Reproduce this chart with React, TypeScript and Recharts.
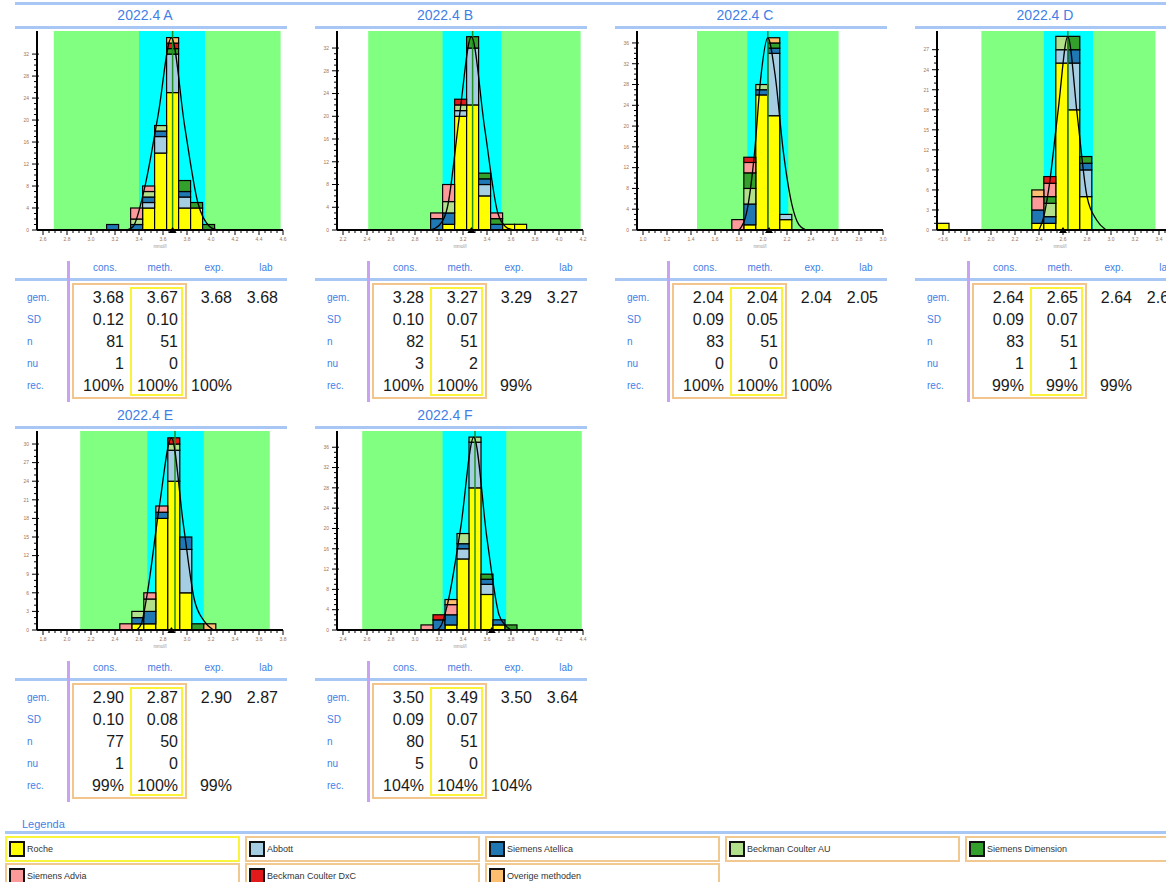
import React from "react";
import {
  ComposedChart,
  Bar,
  Line,
  XAxis,
  YAxis,
  ReferenceArea,
  ReferenceLine,
  ReferenceDot,
} from "recharts";

// ---------------------------------------------------------------------------
// Methods (stack order bottom -> top) and legend colours
// ---------------------------------------------------------------------------

const methods = [
  "Roche",
  "Abbott",
  "Siemens Atellica",
  "Beckman Coulter AU",
  "Siemens Dimension",
  "Siemens Advia",
  "Beckman Coulter DxC",
  "Overige methoden",
];
const methodColors = [
  "#ffff00",
  "#a6cee3",
  "#1f78b4",
  "#b2df8a",
  "#33a02c",
  "#fb9a99",
  "#e31a1c",
  "#fdbf6f",
];

// ---------------------------------------------------------------------------
// 2022.4 A
// ---------------------------------------------------------------------------

const binsA = [3.18, 3.38, 3.48, 3.58, 3.68, 3.78, 3.88, 3.98];
const countsA = [
  [0, 0, 4, 14, 25, 4, 4, 0],
  [0, 0, 1, 3, 7, 2, 0, 0],
  [1, 1, 1, 1, 0, 1, 0, 0],
  [0, 1, 1, 1, 0, 0, 0, 0],
  [0, 0, 0, 0, 1, 2, 1, 1],
  [0, 2, 1, 0, 0, 0, 0, 0],
  [0, 0, 0, 0, 1, 0, 0, 0],
  [0, 0, 0, 0, 1, 0, 0, 0],
];
const curveA = [
  [3.3, 0], [3.35, 0.6], [3.45, 8], [3.56, 21], [3.67, 35],
  [3.78, 19], [3.89, 5], [3.99, 0.6], [4.05, 0],
];
const greenA = [2.69, 4.58];
const cyanA = [3.4, 3.95];
const xTicksA = [2.6, 2.8, 3.0, 3.2, 3.4, 3.6, 3.8, 4.0, 4.2, 4.4, 4.6];
const yTicksA = [0, 4, 8, 12, 16, 20, 24, 28, 32];
const tableA = [
  ["3.68", "3.67", "3.68", "3.68"],
  ["0.12", "0.10"],
  ["81", "51"],
  ["1", "0"],
  ["100%", "100%", "100%"],
];

// ---------------------------------------------------------------------------
// 2022.4 B
// ---------------------------------------------------------------------------

const binsB = [2.98, 3.08, 3.18, 3.28, 3.38, 3.48, 3.58, 3.68];
const countsB = [
  [0, 1, 20, 22, 6, 0, 1, 1],
  [0, 0, 1, 10, 2, 0, 0, 0],
  [2, 2, 0, 0, 1, 1, 0, 0],
  [0, 2, 1, 0, 0, 0, 0, 0],
  [0, 0, 0, 2, 1, 1, 0, 0],
  [1, 3, 0, 0, 0, 1, 0, 0],
  [0, 0, 1, 0, 0, 0, 0, 0],
  [0, 0, 0, 0, 0, 0, 0, 0],
];
const curveB = [
  [2.93, 0], [3.0, 0.8], [3.07, 4], [3.17, 20], [3.27, 34],
  [3.38, 18], [3.49, 3], [3.56, 0.5], [3.62, 0],
];
const greenB = [2.41, 4.18];
const cyanB = [3.03, 3.52];
const xTicksB = [2.2, 2.4, 2.6, 2.8, 3.0, 3.2, 3.4, 3.6, 3.8, 4.0, 4.2];
const yTicksB = [0, 4, 8, 12, 16, 20, 24, 28, 32];
const tableB = [
  ["3.28", "3.27", "3.29", "3.27"],
  ["0.10", "0.07"],
  ["82", "51"],
  ["3", "2"],
  ["100%", "100%", "99%"],
];

// ---------------------------------------------------------------------------
// 2022.4 C
// ---------------------------------------------------------------------------

const binsC = [1.79, 1.89, 1.99, 2.09, 2.19];
const countsC = [
  [0, 1, 26, 22, 2],
  [0, 0, 0, 12, 1],
  [0, 4, 1, 1, 0],
  [0, 3, 1, 0, 0],
  [0, 3, 0, 1, 0],
  [2, 2, 0, 0, 0],
  [0, 1, 0, 0, 0],
  [0, 0, 0, 1, 0],
];
const curveC = [
  [1.8, 0], [1.86, 3], [1.93, 15], [1.98, 29], [2.04, 37],
  [2.1, 30], [2.17, 15], [2.24, 5], [2.3, 1], [2.36, 0],
];
const greenC = [1.45, 2.63];
const cyanC = [1.87, 2.21];
const xTicksC = [1.0, 1.2, 1.4, 1.6, 1.8, 2.0, 2.2, 2.4, 2.6, 2.8, 3.0];
const yTicksC = [0, 4, 8, 12, 16, 20, 24, 28, 32, 36];
const tableC = [
  ["2.04", "2.04", "2.04", "2.05"],
  ["0.09", "0.05"],
  ["83", "51"],
  ["0", "0"],
  ["100%", "100%", "100%"],
];

// ---------------------------------------------------------------------------
// 2022.4 D
// ---------------------------------------------------------------------------

const binsD = [1.6, 2.39, 2.49, 2.59, 2.69, 2.79];
const countsD = [
  [1, 1, 1, 25, 18, 5],
  [0, 0, 0, 2, 7, 4],
  [0, 2, 1, 0, 2, 1],
  [0, 0, 2, 2, 0, 0],
  [0, 0, 1, 0, 2, 1],
  [0, 2, 2, 0, 0, 0],
  [0, 0, 1, 0, 0, 0],
  [0, 1, 0, 0, 0, 0],
];
const curveD = [
  [2.4, 0], [2.44, 2], [2.48, 6], [2.56, 18], [2.64, 29],
  [2.72, 17], [2.8, 5], [2.88, 1.5], [2.96, 0],
];
const greenD = [1.92, 3.37];
const cyanD = [2.44, 2.85];
const xTicksD = [1.6, 1.8, 2.0, 2.2, 2.4, 2.6, 2.8, 3.0, 3.2, 3.4, 3.6];
const yTicksD = [0, 3, 6, 9, 12, 15, 18, 21, 24, 27];
const tableD = [
  ["2.64", "2.65", "2.64", "2.60"],
  ["0.09", "0.07"],
  ["83", "51"],
  ["1", "1"],
  ["99%", "99%", "99%"],
];

// ---------------------------------------------------------------------------
// 2022.4 E
// ---------------------------------------------------------------------------

const binsE = [2.49, 2.59, 2.69, 2.79, 2.89, 2.99, 3.09, 3.19];
const countsE = [
  [0, 1, 1, 18, 24, 6, 0, 0],
  [0, 0, 0, 0, 5, 7, 0, 0],
  [0, 1, 2, 1, 0, 2, 0, 0],
  [0, 1, 2, 0, 1, 0, 0, 0],
  [0, 0, 0, 0, 0, 0, 1, 0],
  [1, 0, 1, 1, 0, 0, 0, 0],
  [0, 0, 0, 0, 1, 0, 0, 0],
  [0, 0, 0, 0, 0, 0, 0, 1],
];
const curveE = [
  [2.58, 0], [2.62, 1], [2.67, 6], [2.77, 20], [2.87, 31],
  [2.97, 17], [3.06, 5], [3.14, 1.5], [3.22, 0],
];
const greenE = [2.11, 3.69];
const cyanE = [2.67, 3.14];
const xTicksE = [1.8, 2.0, 2.2, 2.4, 2.6, 2.8, 3.0, 3.2, 3.4, 3.6, 3.8];
const yTicksE = [0, 3, 6, 9, 12, 15, 18, 21, 24, 27, 30];
const tableE = [
  ["2.90", "2.87", "2.90", "2.87"],
  ["0.10", "0.08"],
  ["77", "50"],
  ["1", "0"],
  ["99%", "100%", "99%"],
];

// ---------------------------------------------------------------------------
// 2022.4 F
// ---------------------------------------------------------------------------

const binsF = [3.1, 3.2, 3.3, 3.4, 3.5, 3.6, 3.7, 3.8];
const countsF = [
  [0, 0, 1, 14, 28, 7, 1, 0],
  [0, 0, 0, 2, 9, 2, 0, 0],
  [0, 2, 2, 1, 0, 1, 1, 0],
  [0, 0, 0, 2, 1, 0, 0, 0],
  [0, 0, 0, 0, 0, 1, 0, 1],
  [1, 0, 2, 0, 0, 0, 0, 0],
  [0, 1, 0, 0, 0, 0, 0, 0],
  [0, 0, 1, 0, 0, 0, 0, 0],
];
const curveF = [
  [3.18, 0], [3.22, 1], [3.27, 5], [3.38, 20], [3.49, 38],
  [3.6, 18], [3.7, 3], [3.75, 1], [3.8, 0],
];
const greenF = [2.56, 4.39];
const cyanF = [3.23, 3.76];
const xTicksF = [2.4, 2.6, 2.8, 3.0, 3.2, 3.4, 3.6, 3.8, 4.0, 4.2, 4.4];
const yTicksF = [0, 4, 8, 12, 16, 20, 24, 28, 32, 36];
const tableF = [
  ["3.50", "3.49", "3.50", "3.64"],
  ["0.09", "0.07"],
  ["80", "51"],
  ["5", "0"],
  ["104%", "104%", "104%"],
];

const rowLabels = ["gem.", "SD", "n", "nu", "rec."];
const colLabels = ["cons.", "meth.", "exp.", "lab"];

// ---------------------------------------------------------------------------
// Styling
// ---------------------------------------------------------------------------

const FONT = '"Liberation Sans", Arial, sans-serif';
const TITLE_BLUE = "#3f7fe6";
const RULE_BLUE = "#a9c7f5";
const TICK_COLOR = "#a07458";
const BIN_WIDTH = 0.1;
const PX_PER_UNIT = 120;

const panels = [
  { title: "2022.4 A", bins: binsA, counts: countsA, curve: curveA, green: greenA, cyan: cyanA, xTicks: xTicksA, yTicks: yTicksA, yMax: 36.2, table: tableA, left: 0, top: 0 },
  { title: "2022.4 B", bins: binsB, counts: countsB, curve: curveB, green: greenB, cyan: cyanB, xTicks: xTicksB, yTicks: yTicksB, yMax: 35, table: tableB, left: 300, top: 0 },
  { title: "2022.4 C", bins: binsC, counts: countsC, curve: curveC, green: greenC, cyan: cyanC, xTicks: xTicksC, yTicks: yTicksC, yMax: 38.3, table: tableC, left: 600, top: 0 },
  { title: "2022.4 D", bins: binsD, counts: countsD, curve: curveD, green: greenD, cyan: cyanD, xTicks: xTicksD, yTicks: yTicksD, yMax: 29.8, table: tableD, left: 900, top: 0, firstLabel: "<1.6" },
  { title: "2022.4 E", bins: binsE, counts: countsE, curve: curveE, green: greenE, cyan: cyanE, xTicks: xTicksE, yTicks: yTicksE, yMax: 32.1, table: tableE, left: 0, top: 400 },
  { title: "2022.4 F", bins: binsF, counts: countsF, curve: curveF, green: greenF, cyan: cyanF, xTicks: xTicksF, yTicks: yTicksF, yMax: 39.2, table: tableF, left: 300, top: 400 },
];

// minor ticks: quarters between the labelled x ticks, units on y
function withMinorX(majors: number[]) {
  const out: number[] = [];
  majors.forEach((m, i) => {
    out.push(m);
    if (i < majors.length - 1) for (let k = 1; k < 4; k++) out.push(+(m + k * 0.05).toFixed(3));
  });
  return out;
}
function withMinorY(majors: number[]) {
  const out: number[] = [];
  const last = majors[majors.length - 1];
  for (let v = 0; v <= last; v++) out.push(v);
  return out;
}

function XTick(props: any) {
  const { x, y, payload, majors, firstLabel } = props;
  const idx = majors.findIndex((m: number) => Math.abs(m - payload.value) < 1e-6);
  const major = idx >= 0;
  const label = idx === 0 && firstLabel ? firstLabel : major ? majors[idx].toFixed(1) : "";
  return (
    <g>
      <line x1={x} y1={y} x2={x} y2={y + (major ? 5 : 3)} stroke="#000" strokeWidth={1} />
      {major && (
        <text x={x} y={y + 11} textAnchor="middle" fontSize={5} fill={TICK_COLOR} fontFamily={FONT}>
          {label}
        </text>
      )}
    </g>
  );
}

function YTick(props: any) {
  const { x, y, payload, majors } = props;
  const major = majors.includes(payload.value);
  return (
    <g>
      <line x1={x - (major ? 5 : 3)} y1={y} x2={x + (major ? 2 : 0)} y2={y} stroke="#000" strokeWidth={1} />
      {major && (
        <text x={x - 8} y={y + 1.8} textAnchor="end" fontSize={5} fill={TICK_COLOR} fontFamily={FONT}>
          {payload.value}
        </text>
      )}
    </g>
  );
}

// every stacked segment is one bin wide, centred on the bin value
function BinSegment(s: any) {
  if (!s.height || s.height <= 0) return null;
  const w = BIN_WIDTH * PX_PER_UNIT;
  const cx = s.x + s.width / 2;
  return (
    <rect x={cx - w / 2} y={s.y} width={w} height={s.height} fill={s.fill} stroke="#000" strokeWidth={1.2} />
  );
}

function Histogram({ p }: { p: (typeof panels)[number] }) {
  const data = p.bins.map((b, i) => {
    const row: Record<string, number> = { x: b };
    methods.forEach((m, j) => (row[m] = p.counts[j][i]));
    return row;
  });
  const curve = p.curve.map(([x, y]) => ({ x, y }));
  const xMin = p.xTicks[0] - 0.05;
  const xMax = p.xTicks[p.xTicks.length - 1];
  const mean = parseFloat(p.table[0][0]);
  const lab = parseFloat(p.table[0][3]);

  return (
    <ComposedChart
      width={290}
      height={252}
      data={data}
      margin={{ top: 31, right: 7, bottom: 2, left: 17 }}
    >
      <XAxis
        dataKey="x"
        type="number"
        domain={[xMin, xMax]}
        allowDataOverflow
        ticks={withMinorX(p.xTicks)}
        interval={0}
        height={20}
        tickSize={0}
        tickMargin={0}
        tickLine={false}
        axisLine={{ stroke: "#000", strokeWidth: 2 }}
        tick={(t: any) => <XTick {...t} majors={p.xTicks} firstLabel={(p as any).firstLabel} />}
        label={{ value: "mmol/l", position: "insideBottom", offset: 2, style: { fontSize: 4.5, fill: "#999", fontFamily: FONT } }}
      />
      <YAxis
        type="number"
        domain={[0, p.yMax]}
        allowDataOverflow
        ticks={withMinorY(p.yTicks)}
        interval={0}
        width={20}
        tickSize={0}
        tickMargin={0}
        tickLine={false}
        axisLine={{ stroke: "#000", strokeWidth: 2 }}
        tick={(t: any) => <YTick {...t} majors={p.yTicks} />}
      />
      <ReferenceArea x1={p.green[0]} x2={p.green[1]} y1={0} y2={p.yMax} fill="#80ff80" fillOpacity={1} stroke="none" ifOverflow="hidden" />
      <ReferenceArea x1={p.cyan[0]} x2={p.cyan[1]} y1={0} y2={p.yMax} fill="#00ffff" fillOpacity={1} stroke="none" ifOverflow="hidden" />
      {methods.map((m, j) => (
        <Bar
          key={m}
          dataKey={m}
          stackId="all"
          fill={methodColors[j]}
          shape={BinSegment}
          isAnimationActive={false}
        />
      ))}
      <ReferenceLine x={mean} stroke="#1f8f1f" strokeWidth={1.5} ifOverflow="hidden" />
      <Line
        data={curve}
        dataKey="y"
        type="monotone"
        stroke="#000"
        strokeWidth={1.3}
        dot={false}
        activeDot={false}
        isAnimationActive={false}
      />
      <ReferenceDot
        x={lab}
        y={0}
        r={4}
        ifOverflow="visible"
        shape={(s: any) => (
          <polygon
            points={`${s.cx - 4},${s.cy + 3} ${s.cx + 4},${s.cy + 3} ${s.cx},${s.cy - 3}`}
            fill="#000"
          />
        )}
      />
    </ComposedChart>
  );
}

function StatsTable({ rows }: { rows: string[][] }) {
  const colRight = [124, 178, 232, 278];
  const colCenter = [105, 160, 214, 266];
  const rowY = [298, 320, 342, 364, 386];
  return (
    <>
      {colLabels.map((c, i) => (
        <div
          key={c}
          style={{ position: "absolute", left: colCenter[i] - 30, width: 60, top: 262, textAlign: "center", fontSize: 10, color: TITLE_BLUE, lineHeight: "12px" }}
        >
          {c}
        </div>
      ))}
      <div style={{ position: "absolute", left: 15, top: 278, width: 272, height: 3, background: RULE_BLUE }} />
      <div style={{ position: "absolute", left: 67, top: 261, width: 3, height: 141, background: "#c9a3f2" }} />
      <div style={{ position: "absolute", left: 72, top: 283, width: 115, height: 116, border: "2px solid #f1c58b", boxSizing: "border-box" }} />
      <div style={{ position: "absolute", left: 130, top: 287, width: 53, height: 109, border: "2px solid #fbf23a", boxSizing: "border-box" }} />
      {rowLabels.map((r, i) => (
        <div key={r} style={{ position: "absolute", left: 27, top: rowY[i] - 6, fontSize: 10, color: TITLE_BLUE, lineHeight: "12px" }}>
          {r}
        </div>
      ))}
      {rows.map((vals, i) =>
        vals.map((v, j) => (
          <div
            key={`${i}-${j}`}
            style={{ position: "absolute", left: colRight[j] - 60, width: 60, top: rowY[i] - 9, textAlign: "right", fontSize: 16, color: "#1a1a1a", lineHeight: "18px" }}
          >
            {v}
          </div>
        )),
      )}
    </>
  );
}

function Panel({ p }: { p: (typeof panels)[number] }) {
  return (
    <div style={{ position: "absolute", left: p.left, top: p.top, width: 300, height: 402 }}>
      <div style={{ position: "absolute", left: 0, width: 290, top: 7, textAlign: "center", fontSize: 14, lineHeight: "16px", color: TITLE_BLUE }}>
        {p.title}
      </div>
      <div style={{ position: "absolute", left: 15, top: 26, width: 272, height: 3, background: RULE_BLUE }} />
      <div style={{ position: "absolute", left: 0, top: 0 }}>
        <Histogram p={p} />
      </div>
      <StatsTable rows={p.table} />
    </div>
  );
}

function Legend() {
  const colX = [5, 245, 485, 725, 965];
  const rowTop = [836, 863];
  return (
    <>
      <div style={{ position: "absolute", left: 22, top: 818, fontSize: 11, lineHeight: "13px", color: TITLE_BLUE }}>Legenda</div>
      <div style={{ position: "absolute", left: 5, top: 831, width: 1161, height: 3, background: RULE_BLUE }} />
      {methods.map((m, i) => (
        <div
          key={m}
          style={{
            position: "absolute",
            left: colX[i % 5],
            top: rowTop[Math.floor(i / 5)],
            width: 235,
            height: 26,
            border: `2px solid ${i === 0 ? "#f9f53c" : "#f0c890"}`,
            boxSizing: "border-box",
          }}
        >
          <div
            style={{
              position: "absolute",
              left: 2,
              top: 3,
              width: 16,
              height: 16,
              background: methodColors[i],
              border: "2px solid #111",
              boxSizing: "border-box",
            }}
          />
          <div style={{ position: "absolute", left: 20, top: 5, fontSize: 9, lineHeight: "12px", color: "#333" }}>{m}</div>
        </div>
      ))}
    </>
  );
}

export default function App() {
  return (
    <div
      style={{
        position: "relative",
        width: 1166,
        height: 882,
        overflow: "hidden",
        background: "#fff",
        fontFamily: FONT,
      }}
    >
      <style>{"body{margin:0}"}</style>
      <div style={{ position: "absolute", left: 15, top: 2, width: 1151, height: 3, background: RULE_BLUE }} />
      {panels.map((p) => (
        <Panel key={p.title} p={p} />
      ))}
      <Legend />
    </div>
  );
}
